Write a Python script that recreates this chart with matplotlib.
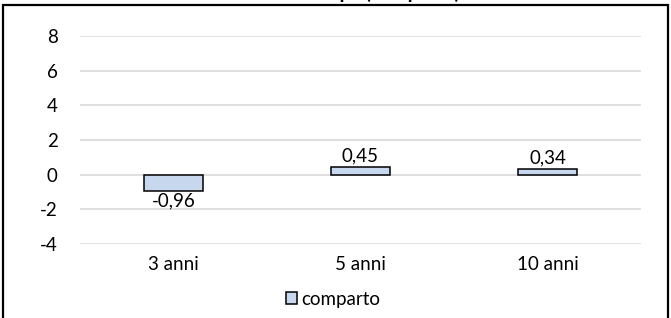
import matplotlib
matplotlib.use("Agg")
import matplotlib.pyplot as plt
from matplotlib.patches import Rectangle
import numpy as np

categories = ["3 anni", "5 anni", "10 anni"]
values = [-0.96, 0.45, 0.34]
series_name = "comparto"
yticks = [-4, -2, 0, 2, 4, 6, 8]
title = "Extra-rendimento netto pa (comparto)"

plt.rcParams['font.family'] = ['Lato', 'DejaVu Sans']

FS = 13.5
W, H = 671, 318
fig = plt.figure(figsize=(W / 100, H / 100), dpi=100)
ax = fig.add_axes([80 / W, 1 - 244 / H, (641 - 80) / W, (244 - 36) / H])

x = np.arange(len(categories))
bars = ax.bar(x, values, width=0.32, color="#C6D7EE", edgecolor="black",
              linewidth=1.1, label=series_name, zorder=3)

ax.set_xlim(-0.5, len(categories) - 0.5)
ax.set_ylim(min(yticks), max(yticks))
ax.set_yticks(yticks)
ax.set_yticklabels([str(t) for t in yticks])
ax.set_xticks(x)
ax.set_xticklabels(categories)
ax.tick_params(axis="both", length=0, labelsize=FS, colors="#000000")
ax.tick_params(axis="y", pad=16)
ax.tick_params(axis="x", pad=9)
ax.grid(axis="y", color="#D9D9D9", linewidth=1.2, zorder=0)
for s in ax.spines.values():
    s.set_visible(False)

for xi, v in zip(x, values):
    lab = f"{v:.2f}".replace(".", ",")
    if v >= 0:
        ax.annotate(lab, (xi, v), xytext=(0, 2), textcoords="offset points",
                    ha="center", va="bottom", fontsize=FS)
    else:
        ax.annotate(lab, (xi, v), xytext=(0, -1), textcoords="offset points",
                    ha="center", va="top", fontsize=FS)

fig.legend(handles=[bars], labels=[series_name], loc="center",
           bbox_to_anchor=(333 / W, 1 - 299 / H), frameon=False, fontsize=FS,
           handlelength=0.6, handleheight=0.6, handletextpad=0.25)

fig.text(460 / W, 1 + 1 / H, title, ha="right", va="baseline",
         fontsize=14, fontweight="bold")

fig.patches.append(Rectangle((3 / W, -0.1), (668 - 3) / W, 1.1 - 5 / H,
                             transform=fig.transFigure, fill=False,
                             edgecolor="black", linewidth=1.6))

fig.savefig("out.png", dpi=100)
